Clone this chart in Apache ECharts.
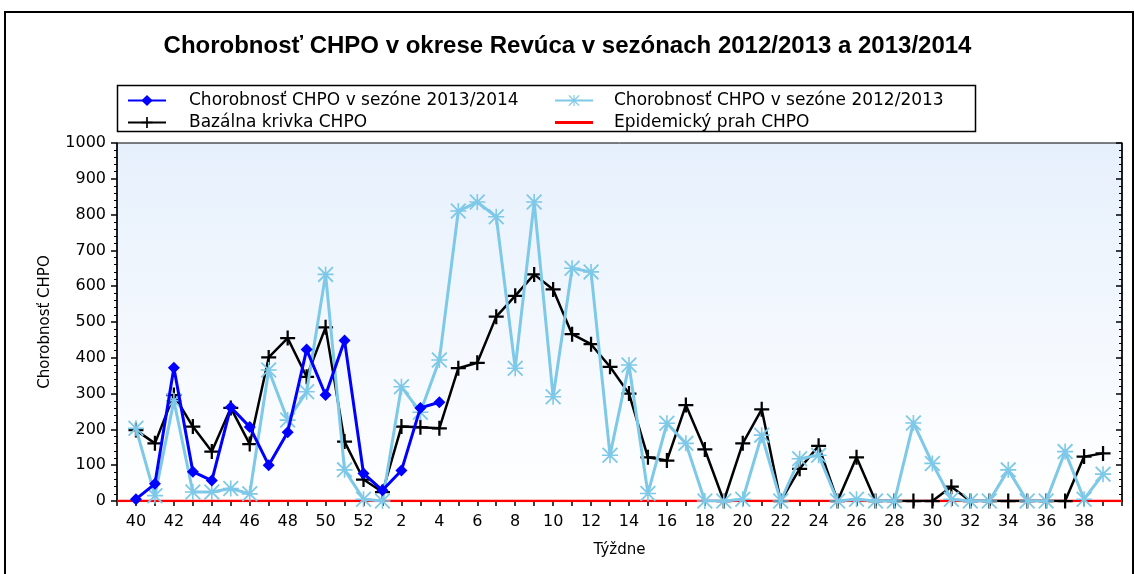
<!DOCTYPE html>
<html>
<head>
<meta charset="utf-8">
<script src="https://cdn.jsdelivr.net/npm/echarts@6/dist/echarts.min.js"></script>
<style>
  html, body { margin: 0; padding: 0; background: #ffffff; }
  #chart { width: 1135px; height: 574px; }
</style>
</head>
<body>
<div id="chart"></div>
<script>
// Calendar weeks of the season: 40..52, then 1..39
const weeks = ['40','41','42','43','44','45','46','47','48','49','50','51','52',
  '1','2','3','4','5','6','7','8','9','10','11','12','13','14','15','16','17','18','19','20',
  '21','22','23','24','25','26','27','28','29','30','31','32','33','34','35','36','37','38','39'];

// Morbidity per 100 000, season 2013/2014 (weeks 40..4 reported so far)
const season1314 = [5, 48, 372, 82, 57, 262, 207, 100, 192, 423, 296, 448, 77, 30, 85, 260, 276];

// Morbidity, season 2012/2013
const season1213 = [203, 15, 280, 25, 25, 35, 20, 366, 226, 305, 633, 87, 5,
  0, 319, 248, 394, 810, 835, 794, 371, 835, 291, 650, 640, 128, 380, 21, 217, 161, 0, 0, 5,
  184, 0, 118, 128, 0, 5, 0, 0, 218, 105, 5, 0, 0, 87, 0, 0, 138, 5, 75];

// Baseline curve
const baseline = [198, 161, 296, 208, 138, 260, 159, 401, 455, 347, 485, 166, 60,
  25, 208, 206, 203, 371, 386, 515, 573, 633, 591, 466, 438, 375, 300, 122, 113, 268, 144, 0, 161,
  256, 0, 90, 154, 0, 122, 0, 0, 0, 0, 40, 0, 0, 0, 0, 0, 0, 124, 133];

// Epidemic threshold
const threshold = weeks.map(() => 0);

// Value axis ticks
const yMin = 0, yMax = 1000, yStep = 100;

// The week axis gets an empty slot on each side so the curves sit off the frame
const axisWeeks = [''].concat(weeks, ['']);
const padNull = arr => {
  const full = weeks.map((w, i) => (i < arr.length ? arr[i] : null));
  return [null].concat(full, [null]);
};
const padEdge = arr => [arr[0]].concat(arr, [arr[arr.length - 1]]);

const FONT = '"DejaVu Sans", Verdana, sans-serif';
const PLUS = 'path://M8.5,0h3v8.5h8.5v3h-8.5v8.5h-3v-8.5h-8.5v-3h8.5z';
const STAR = 'path://M9,0h2v20h-2z M0,9h20v2h-20z M1.6,0L20,18.4L18.4,20L0,1.6z M18.4,0L20,1.6L1.6,20L0,18.4z';
const BAR = 'path://M0,0h38v3h-38z';

const chart = echarts.init(document.getElementById('chart'), null, { renderer: 'canvas' });

const legendText = { fontFamily: FONT, fontSize: 17, color: '#000' };

const option = {
  backgroundColor: '#ffffff',
  animation: false,
  title: {
    text: 'Chorobnosť CHPO v okrese Revúca v sezónach 2012/2013 a 2013/2014',
    left: 'center',
    top: 29,
    textStyle: { fontFamily: '"Liberation Sans", Arial, sans-serif', fontSize: 24, fontWeight: 'bold', color: '#000' }
  },
  graphic: [
    { type: 'rect', shape: { x: 5, y: 12, width: 1128, height: 620 }, silent: true,
      style: { fill: null, stroke: '#000', lineWidth: 2 } },
    { type: 'rect', shape: { x: 117.5, y: 85.5, width: 858, height: 46 }, silent: true,
      style: { fill: '#fff', stroke: '#000', lineWidth: 1.5 }, z: -1 }
  ],
  legend: [
    {
      left: 122, top: 87, orient: 'vertical', itemGap: 5,
      itemWidth: 38, itemHeight: 14,
      data: ['Chorobnosť CHPO v sezóne 2013/2014', 'Bazálna krivka CHPO'],
      textStyle: Object.assign({ padding: [0, 0, 0, 18] }, legendText)
    },
    {
      left: 549, top: 87, orient: 'vertical', itemGap: 5,
      itemWidth: 38, itemHeight: 14,
      data: ['Chorobnosť CHPO v sezóne 2012/2013', { name: 'Epidemický prah CHPO', icon: BAR }],
      textStyle: Object.assign({ padding: [0, 0, 0, 16] }, legendText)
    }
  ],
  grid: {
    left: 117, right: 13, top: 143, bottom: 73,
    show: true,
    borderColor: '#000', borderWidth: 1,
    backgroundColor: new echarts.graphic.LinearGradient(0, 0, 0, 1, [
      { offset: 0, color: '#e6f0fc' },
      { offset: 1, color: '#ffffff' }
    ])
  },
  xAxis: [
    {
      type: 'category', data: axisWeeks, boundaryGap: false,
      name: 'Týždne', nameLocation: 'middle', nameGap: 42,
      nameTextStyle: { fontFamily: FONT, fontSize: 15, color: '#000' },
      axisLine: { lineStyle: { color: '#000', width: 1.5 } },
      axisTick: { interval: 0, length: 5, lineStyle: { color: '#000', width: 1.5 } },
      axisLabel: {
        interval: (idx) => idx % 2 === 1,
        fontFamily: FONT, fontSize: 16, color: '#000', margin: 13
      },
      splitLine: { show: false }
    },
    {
      type: 'category', data: axisWeeks, boundaryGap: false, position: 'top',
      axisLine: { lineStyle: { color: '#000', width: 1.5 } },
      axisTick: { interval: 0, inside: true, length: 5, lineStyle: { color: '#000', width: 1.5 } },
      axisLabel: { show: false },
      splitLine: { show: false }
    }
  ],
  yAxis: [
    {
      type: 'value', min: yMin, max: yMax, interval: yStep,
      name: 'Chorobnosť CHPO', nameLocation: 'middle', nameGap: 64, nameRotate: 90,
      nameTextStyle: { fontFamily: FONT, fontSize: 15, color: '#000' },
      axisLine: { show: true, lineStyle: { color: '#000', width: 1.5 } },
      axisTick: { show: true, length: 6, lineStyle: { color: '#000', width: 1.5 } },
      minorTick: { show: true, splitNumber: 5, length: 3, lineStyle: { color: '#000', width: 1 } },
      axisLabel: { fontFamily: FONT, fontSize: 16, color: '#000', margin: 11, formatter: v => String(v) },
      splitLine: { show: false }
    },
    {
      type: 'value', min: yMin, max: yMax, interval: yStep, position: 'right',
      axisLine: { show: true, lineStyle: { color: '#000', width: 1.5 } },
      axisTick: { show: true, inside: true, length: 6, lineStyle: { color: '#000', width: 1.5 } },
      minorTick: { show: true, splitNumber: 5, length: 3, lineStyle: { color: '#000', width: 1 } },
      axisLabel: { show: false },
      splitLine: { show: false }
    }
  ],
  series: [
    {
      name: 'Epidemický prah CHPO', type: 'line', data: padEdge(threshold),
      symbol: 'none', z: 2,
      lineStyle: { color: '#ff0000', width: 2.5 },
      itemStyle: { color: '#ff0000' }
    },
    {
      name: 'Bazálna krivka CHPO', type: 'line', data: padNull(baseline),
      symbol: PLUS, symbolSize: 15, showAllSymbol: true, z: 3,
      lineStyle: { color: '#000000', width: 2.5 },
      itemStyle: { color: '#000000', borderWidth: 0 }
    },
    {
      name: 'Chorobnosť CHPO v sezóne 2012/2013', type: 'line', data: padNull(season1213),
      symbol: STAR, symbolSize: 16, showAllSymbol: true, z: 4,
      lineStyle: { color: '#7ec8e8', width: 3 },
      itemStyle: { color: '#7ec8e8', borderWidth: 0 }
    },
    {
      name: 'Chorobnosť CHPO v sezóne 2013/2014', type: 'line', data: padNull(season1314),
      symbol: 'diamond', symbolSize: 12, showAllSymbol: true, z: 5,
      lineStyle: { color: '#0000ff', width: 3 },
      itemStyle: { color: '#0000ff', borderWidth: 0 }
    }
  ]
};

chart.setOption(option);
</script>
</body>
</html>
